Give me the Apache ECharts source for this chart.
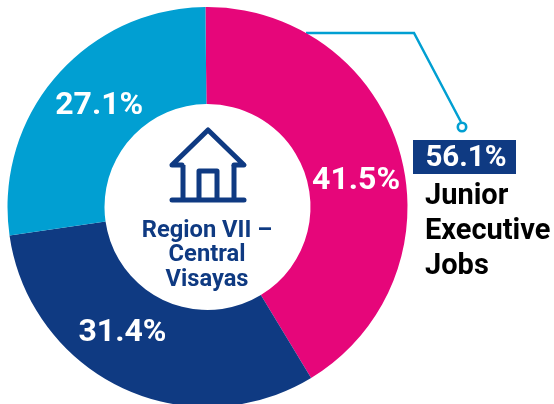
<!DOCTYPE html>
<html><head><meta charset="utf-8">
<style>html,body{margin:0;padding:0;background:#fff}#c{width:554px;height:404px}</style>
<script src="https://cdn.jsdelivr.net/npm/echarts@6/dist/echarts.min.js"></script>
</head><body><div id="c"></div>
<script>
const categories = ['Junior Executive A', 'Junior Executive B', 'Junior Executive C'];
const values = [41.5, 31.4, 27.1];
const colors = ['#E6067A', '#0F3A82', '#019FD2'];
const labelOffsets = [[0, 16], [-19, -14], [9, 0]];
const centerLines = ['Region VII –', 'Central', 'Visayas'];
const calloutValue = '56.1%';
const calloutLines = ['Junior', 'Executive', 'Jobs'];

const chart = echarts.init(document.getElementById('c'), null, {renderer: 'canvas'});
const navy = '#0F3A82', cyan = '#019FD2';
const font = 'Roboto';
chart.setOption({
  animation: false,
  series: [{
    type: 'pie',
    center: [207.5, 207],
    radius: [103, 200],
    startAngle: 90.6,
    clockwise: true,
    silent: true,
    labelLine: {show: false},
    data: categories.map((name, i) => ({
      name, value: values[i],
      itemStyle: {color: colors[i]},
      label: {
        show: true, position: 'inside', offset: labelOffsets[i],
        formatter: values[i].toFixed(1) + '%',
        color: '#fff', fontFamily: font, fontWeight: 700, fontSize: 32
      }
    }))
  }],
  graphic: [
    {type: 'polyline', shape: {points: [[306, 33], [414, 33], [461, 122]]}, style: {stroke: cyan, lineWidth: 2.5, fill: null}},
    {type: 'circle', shape: {cx: 462, cy: 127, r: 4.2}, style: {stroke: cyan, lineWidth: 2.6, fill: '#fff'}},
    {type: 'rect', shape: {x: 413, y: 140, width: 103, height: 34}, style: {fill: navy}},
    {type: 'text', style: {x: 466, y: 159, text: calloutValue, align: 'center', verticalAlign: 'middle', fill: '#fff', font: '700 29.5px ' + font}},
    ...calloutLines.map((t, i) => ({type: 'text', style: {x: 425, y: 197 + i * 35, text: t, align: 'left', verticalAlign: 'middle', fill: '#000', font: '700 29px ' + font}})),
    ...centerLines.map((t, i) => ({type: 'text', style: {x: 207, y: 231 + i * 24.5, text: t, align: 'center', verticalAlign: 'middle', fill: navy, font: '700 23.7px ' + font}})),
    {type: 'polyline', shape: {points: [[182, 165], [172, 165], [208, 130], [244, 165], [234, 165]]}, style: {stroke: navy, lineWidth: 5, fill: null, lineCap: 'round', lineJoin: 'round'}},
    {type: 'polyline', shape: {points: [[183, 165], [183, 200]]}, style: {stroke: navy, lineWidth: 5, fill: null}},
    {type: 'polyline', shape: {points: [[234, 165], [234, 200]]}, style: {stroke: navy, lineWidth: 5, fill: null}},
    {type: 'polyline', shape: {points: [[172, 200], [244, 200]]}, style: {stroke: navy, lineWidth: 5, fill: null, lineCap: 'round'}},
    {type: 'polyline', shape: {points: [[199, 200], [199, 171], [217, 171], [217, 200]]}, style: {stroke: navy, lineWidth: 5, fill: null, lineJoin: 'round'}}
  ]
});
</script></body></html>
